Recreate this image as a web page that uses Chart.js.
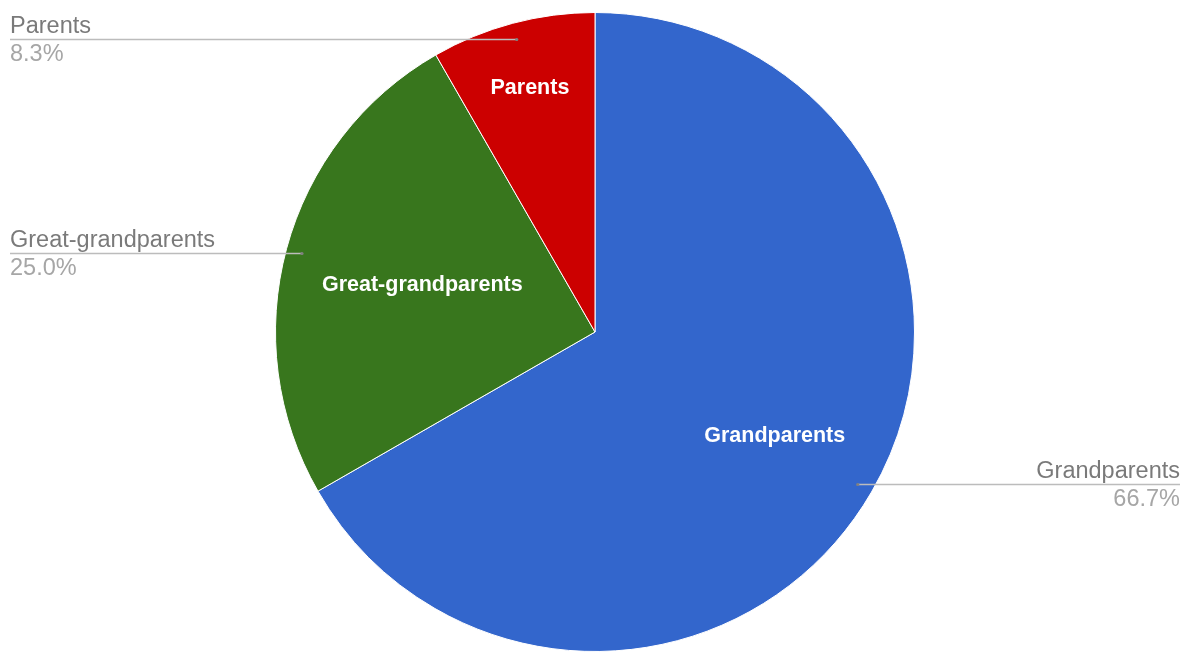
<!DOCTYPE html>
<html>
<head>
<meta charset="utf-8">
<title>Family share</title>
<script src="https://cdn.jsdelivr.net/npm/chart.js@4"></script>
<style>
  html, body { margin: 0; padding: 0; background: #ffffff; }
  #wrap { width: 1187px; height: 653px; position: relative; }
</style>
</head>
<body>
<div id="wrap"><canvas id="pieChart" width="1187" height="653"></canvas></div>
<script>
const categories = ['Grandparents', 'Great-grandparents', 'Parents'];
const shares = [66.7, 25.0, 8.3];
const sliceColors = ['#3366cc', '#38761d', '#cc0000'];

const FONT = '"Liberation Sans", Arial, sans-serif';

// slice names inside the pie plus callout labels with leader lines
const sliceLabels = {
  id: 'sliceLabels',
  afterDatasetsDraw(chart, args, opts) {
    const ctx = chart.ctx;
    const meta = chart.getDatasetMeta(0);
    const values = chart.data.datasets[0].data;
    const total = values.reduce((a, b) => a + b, 0);

    meta.data.forEach((arc, i) => {
      const mid = (arc.startAngle + arc.endAngle) / 2;
      const r = arc.outerRadius;
      const cos = Math.cos(mid), sin = Math.sin(mid);

      // name inside the slice
      const ir = r * opts.insideRadius[i];
      ctx.save();
      ctx.font = 'bold 21.5px ' + FONT;
      ctx.fillStyle = '#ffffff';
      ctx.textAlign = 'center';
      ctx.textBaseline = 'middle';
      ctx.fillText(chart.data.labels[i], arc.x + cos * ir, arc.y + sin * ir);
      ctx.restore();

      // leader line from the slice edge out to the side
      const px = arc.x + cos * r * 0.95;
      const py = Math.round(arc.y + sin * r * 0.95) + 0.5;
      const right = cos > 0;
      const endX = right ? chart.width - 7 : 10;

      ctx.save();
      ctx.strokeStyle = '#bcbcbc';
      ctx.lineWidth = 1.3;
      ctx.beginPath();
      ctx.moveTo(px, py);
      ctx.lineTo(endX, py);
      ctx.stroke();
      ctx.fillStyle = '#808080';
      ctx.beginPath();
      ctx.arc(px, py, 1.6, 0, Math.PI * 2);
      ctx.fill();

      ctx.font = '23.5px ' + FONT;
      ctx.textAlign = right ? 'right' : 'left';
      ctx.textBaseline = 'alphabetic';
      ctx.fillStyle = '#7a7a7a';
      ctx.fillText(chart.data.labels[i], endX, py - 7);
      ctx.fillStyle = '#a6a6a6';
      ctx.fillText((values[i] / total * 100).toFixed(1) + '%', endX, py + 21);
      ctx.restore();
    });
  }
};

new Chart(document.getElementById('pieChart'), {
  type: 'pie',
  data: {
    labels: categories,
    datasets: [{
      data: shares,
      backgroundColor: sliceColors,
      borderColor: '#ffffff',
      borderWidth: 1,
      hoverOffset: 0
    }]
  },
  options: {
    responsive: false,
    animation: false,
    layout: { padding: { top: 12, bottom: 1, left: 3, right: 0 } },
    plugins: {
      legend: { display: false },
      tooltip: { enabled: false },
      sliceLabels: { insideRadius: [0.65, 0.56, 0.79] }
    }
  },
  plugins: [sliceLabels]
});
</script>
</body>
</html>
